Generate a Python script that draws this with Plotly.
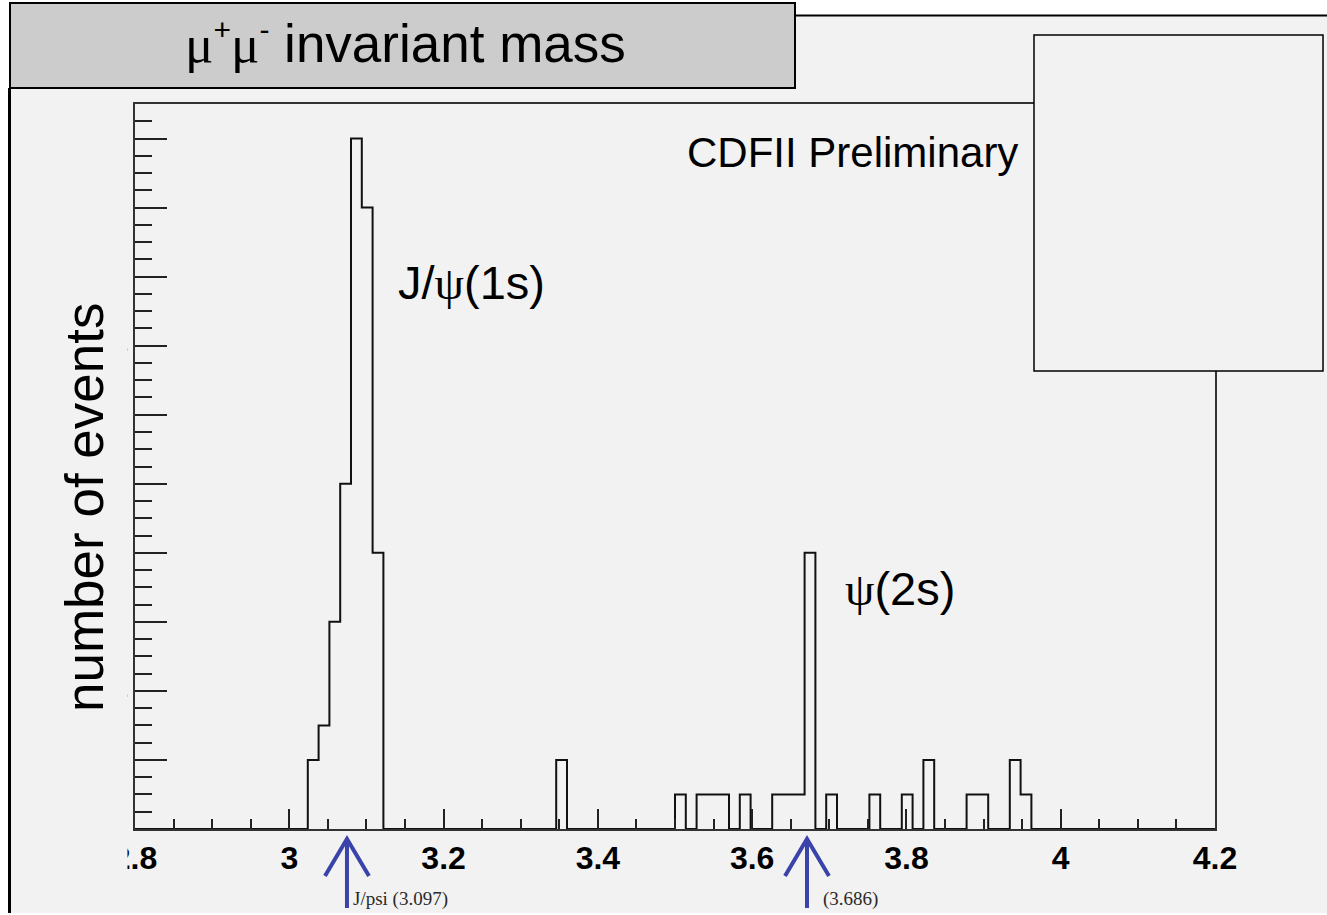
import numpy as np
import plotly.graph_objects as go

# ---- histogram of the mu+mu- invariant mass (GeV), 100 bins from 2.8 to 4.2 ----
mass_lo, mass_hi, n_bins = 2.8, 4.2, 100

# centres of the populated bins and their event counts
bin_centres = [3.031, 3.045, 3.059, 3.073, 3.087, 3.101, 3.115,
               3.353, 3.507, 3.535, 3.549, 3.563, 3.591,
               3.633, 3.647, 3.661, 3.675, 3.703, 3.759,
               3.801, 3.829, 3.885, 3.899, 3.941, 3.955]
bin_counts = [2, 3, 6, 10, 20, 18, 8,
              2, 1, 1, 1, 1, 1,
              1, 1, 1, 8, 1, 1,
              1, 2, 1, 1, 2, 1]

# axis ticks
x_tick_vals = [2.8, 3.0, 3.2, 3.4, 3.6, 3.8, 4.0, 4.2]
x_tick_text = ["2.8", "3", "3.2", "3.4", "3.6", "3.8", "4", "4.2"]
y_tick_vals = [0, 2, 4, 6, 8, 10, 12, 14, 16, 18, 20]

# reference resonance masses marked below the axis
resonance_mass = [3.097, 3.686]
resonance_label = ["J/psi (3.097)", "(3.686)"]

edges = np.linspace(mass_lo, mass_hi, n_bins + 1)
hist, _ = np.histogram(bin_centres, bins=edges, weights=bin_counts)
step_y = np.append(hist, hist[-1])

# ---- page geometry (pixels) ----
W, H = 1327, 915
L, R, T, B = 135, 1215, 104, 829
BG = "#f2f2f2"


def px_x(px):
    return (px - L) / (R - L)


def px_y(py):
    return (B - py) / (B - T)


fig = go.Figure()

fig.add_trace(go.Scatter(
    x=edges, y=step_y, mode="lines",
    line=dict(color="#111111", width=2, shape="hv"),
    hoverinfo="skip", showlegend=False,
))

# helper trace that carries the overlay axis for the mass markers
fig.add_trace(go.Scatter(
    x=resonance_mass, y=[0, 0], xaxis="x2", mode="markers",
    marker=dict(opacity=0), hoverinfo="skip", showlegend=False,
))

shapes = []
# slide panel behind the plot
shapes.append(dict(type="rect", xref="paper", yref="paper", layer="below",
                   x0=px_x(10), x1=px_x(W), y0=px_y(913), y1=px_y(15),
                   fillcolor=BG, line=dict(width=0)))
shapes.append(dict(type="line", xref="paper", yref="paper", layer="above",
                   x0=px_x(795), x1=px_x(W), y0=px_y(15.5), y1=px_y(15.5),
                   line=dict(color="black", width=2)))
shapes.append(dict(type="line", xref="paper", yref="paper", layer="above",
                   x0=px_x(9.5), x1=px_x(9.5), y0=px_y(88), y1=px_y(913),
                   line=dict(color="black", width=3)))
# title box
shapes.append(dict(type="rect", xref="paper", yref="paper", layer="above",
                   x0=px_x(10), x1=px_x(795), y0=px_y(88), y1=px_y(3),
                   fillcolor="#cccccc", line=dict(color="black", width=2)))
# panel strip hiding the vertical-axis numbers
shapes.append(dict(type="rect", xref="paper", yref="paper", layer="above",
                   x0=px_x(12), x1=px_x(127.5), y0=px_y(880), y1=px_y(95),
                   fillcolor=BG, line=dict(width=0)))
# empty legend box
shapes.append(dict(type="rect", xref="paper", yref="paper", layer="above",
                   x0=px_x(1034), x1=px_x(1323), y0=px_y(371), y1=px_y(35),
                   fillcolor=BG, line=dict(color="black", width=1.5)))

# arrows pointing at the resonance masses
x2_lo, x2_hi = 2.8256, 4.2084
px_per_unit = (R - L) / (x2_hi - x2_lo)
half_w = 22 / px_per_unit
tip, wing, bottom = px_y(839), px_y(876), px_y(908)
for m in resonance_mass:
    path = (f"M {m},{bottom} L {m},{tip} "
            f"M {m - half_w},{wing} L {m},{tip} L {m + half_w},{wing}")
    shapes.append(dict(type="path", xref="x2", yref="paper", layer="above",
                       path=path, line=dict(color="#3a43aa", width=4)))

annotations = []
sans = "Liberation Sans, Arial, sans-serif"
serif = "Liberation Serif, Times New Roman, serif"
mu = f"<span style='font-family:{serif}'>μ</span>"
psi = f"<span style='font-family:{serif}'>ψ</span>"
small = "<span style='font-size:30px'>{}</span>"

annotations.append(dict(
    xref="paper", yref="paper", x=px_x(405), y=px_y(43),
    xanchor="center", yanchor="middle", showarrow=False,
    text=(f"{mu}<sup>{small.format('+')}</sup>{mu}"
          f"<sup>{small.format('-')}</sup> invariant mass"),
    font=dict(family=sans, size=53, color="black")))
annotations.append(dict(
    xref="paper", yref="paper", x=px_x(84), y=px_y(507),
    xanchor="center", yanchor="middle", showarrow=False, textangle=-90,
    text="number of events",
    font=dict(family=sans, size=53, color="black")))
annotations.append(dict(
    xref="paper", yref="paper", x=px_x(685), y=px_y(152),
    xanchor="left", yanchor="middle", showarrow=False,
    text="CDFII Preliminary",
    font=dict(family=sans, size=42, color="black")))
annotations.append(dict(
    xref="paper", yref="paper", x=px_x(396), y=px_y(282),
    xanchor="left", yanchor="middle", showarrow=False,
    text=f"J/{psi}(1s)",
    font=dict(family=sans, size=47, color="black")))
annotations.append(dict(
    xref="paper", yref="paper", x=px_x(843), y=px_y(588),
    xanchor="left", yanchor="middle", showarrow=False,
    text=f"{psi}(2s)",
    font=dict(family=sans, size=47, color="black")))
for m, lab, shift in zip(resonance_mass, resonance_label, [4, 14]):
    annotations.append(dict(
        xref="x2", yref="paper", x=m, y=px_y(899), xshift=shift,
        xanchor="left", yanchor="middle", showarrow=False, text=lab,
        font=dict(family=serif, size=19, color="#2a2a2a")))

tick_font = dict(family=sans, size=32, color="black", weight="bold")

fig.update_layout(
    width=W, height=H, autosize=False,
    margin=dict(l=L, r=W - R, t=T, b=H - B, pad=0),
    paper_bgcolor="white", plot_bgcolor=BG,
    showlegend=False,
    shapes=shapes, annotations=annotations,
    xaxis=dict(
        range=[mass_lo, mass_hi], showgrid=False, zeroline=False,
        showline=True, mirror=True, linecolor="#333333", linewidth=2,
        ticks="inside", ticklen=20, tickwidth=2, tickcolor="#222222",
        tickvals=x_tick_vals, ticktext=x_tick_text, tickfont=tick_font,
        minor=dict(dtick=0.05, tick0=2.8, ticks="inside", ticklen=10,
                   tickwidth=2, tickcolor="#222222", showgrid=False),
        automargin=False, fixedrange=True,
    ),
    xaxis2=dict(
        range=[x2_lo, x2_hi], overlaying="x", visible=False,
        automargin=False, fixedrange=True,
    ),
    yaxis=dict(
        range=[0, 21], showgrid=False, zeroline=False,
        showline=True, mirror=True, linecolor="#333333", linewidth=2,
        ticks="inside", ticklen=32, tickwidth=2, tickcolor="#222222",
        tickvals=y_tick_vals, tickfont=dict(family=sans, size=28,
                                            color="black", weight="bold"),
        minor=dict(dtick=0.5, tick0=0, ticks="inside", ticklen=17,
                   tickwidth=2, tickcolor="#222222", showgrid=False),
        automargin=False, fixedrange=True,
    ),
)

fig.write_html("out.html", config={"displayModeBar": False})
